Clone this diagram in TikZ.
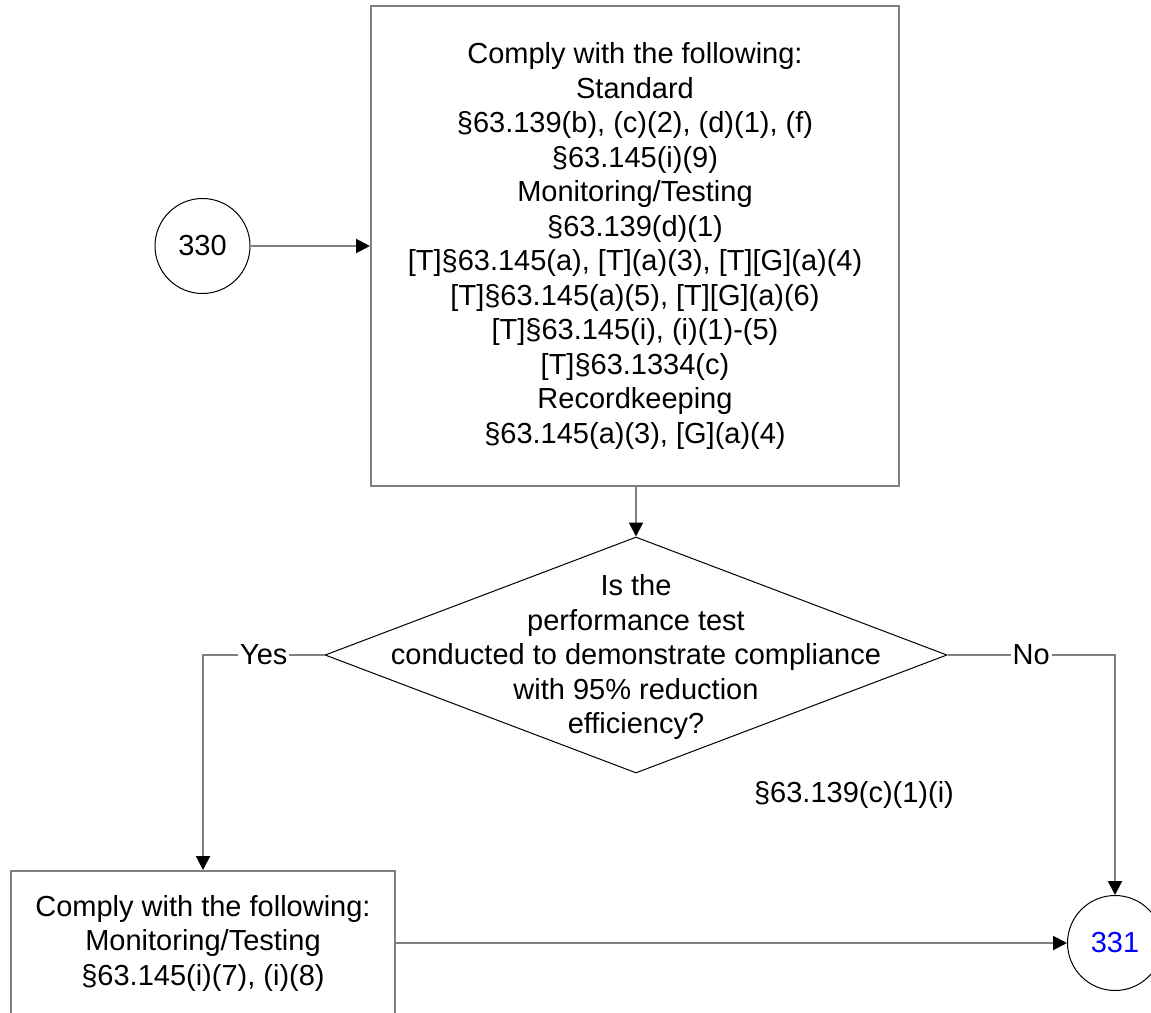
\documentclass[tikz,border=0pt]{standalone}
\usepackage{fontspec}
\setmainfont{Liberation Sans}
\usetikzlibrary{shapes.geometric,arrows.meta}
\definecolor{lncol}{RGB}{128,128,128}
\definecolor{refblue}{RGB}{0,0,255}

\begin{document}
\begin{tikzpicture}[x=.5pt,y=-.5pt,
  every node/.style={font=\fontsize{14.5}{17.25}\selectfont,align=center},
  actbox/.style={draw=lncol,line width=1pt,inner sep=0pt},
  offpage/.style={draw=black,circle,line width=.5pt,minimum size=47.5pt,inner sep=0pt},
  decide/.style={draw=black,diamond,line width=.5pt,inner sep=0pt,minimum width=311pt,minimum height=118pt},
  flow/.style={draw=lncol,line width=1pt,-{Triangle[length=7pt,width=7pt,color=black]}},
  yn/.style={fill=white,inner sep=1pt}]
\useasboundingbox (0,0) rectangle (1151,1012);
\clip (0,0) rectangle (1151,1012);
\node[offpage] (c330) at (202.5,246) {330};
\node[actbox,minimum width=264pt,minimum height=240pt] (act1) at (635,246) {Comply with the following:\\Standard\\
\S63.139(b), (c)(2), (d)(1), (f)\\\S63.145(i)(9)\\Monitoring/Testing\\\S63.139(d)(1)\\
{[T]}\S63.145(a), [T](a)(3), [T][G](a)(4)\\{[T]}\S63.145(a)(5), [T][G](a)(6)\\
{[T]}\S63.145(i), (i)(1)-(5)\\{[T]}\S63.1334(c)\\Recordkeeping\\\S63.145(a)(3), [G](a)(4)};
\node[decide] (dec) at (636,655) {};
\node (qtext) at (636,657) {Is the\\performance test\\conducted to demonstrate compliance\\with 95\% reduction\\efficiency?};
\node (ref) at (854,795) {\S63.139(c)(1)(i)};
\node[actbox,minimum width=192pt,minimum height=72pt] (act2) at (203,943) {Comply with the following:\\Monitoring/Testing\\\S63.145(i)(7), (i)(8)};
\node[offpage,text=refblue] (c331) at (1115,943) {331};

\draw[flow] (c330.east) -- (c330.east -| act1.west);
\draw[flow] (act1.south -| dec.north) -- (dec.north);
\draw[flow] (dec.west) -| node[yn,pos=.25] (yes) {Yes} (act2.north);
\draw[flow] (dec.east) -| node[yn,pos=.25] (no) {No} (c331.north);
\draw[flow] (act2.east) -- (c331.west);
\end{tikzpicture}
\end{document}
